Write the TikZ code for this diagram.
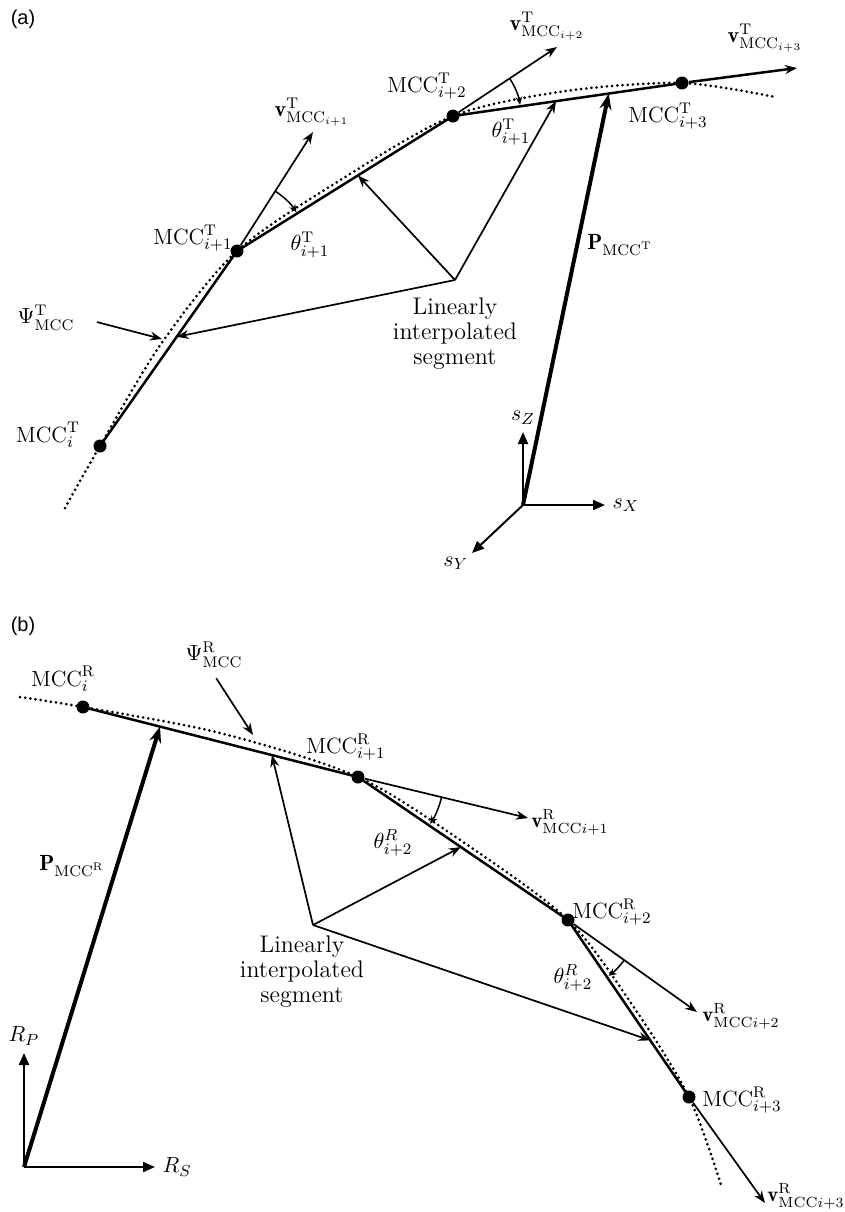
\documentclass[tikz,border=0pt]{standalone}
\usepackage{fontspec}
\usepackage{amsmath}
\usetikzlibrary{arrows.meta,calc}
\newfontfamily\panelfont{Liberation Sans}

\begin{document}
\begin{tikzpicture}[>={Stealth[length=6pt,width=4.5pt]},x=.5pt,y=-.5pt,
  every node/.style={font=\fontsize{11}{13}\selectfont},
  pt/.style={circle,fill,inner sep=0pt,minimum size=6.5pt},
  seg/.style={line width=1.25pt},
  crv/.style={line width=1.5pt,line cap=round,dash pattern=on 0pt off 2.6pt},
  vec/.style={->,line width=.85pt},
  pvec/.style={-{Stealth[length=8pt,width=6pt]},line width=2pt},
  ang/.style={-{Stealth[length=4pt,width=3.5pt]},line width=.75pt},
  ax/.style={-{Triangle[length=6pt,width=5pt]},line width=1pt},
  vlab/.style={anchor=west,inner sep=1pt,font=\fontsize{10.5}{12}\selectfont},
  note/.style={align=center,inner sep=0pt,font=\fontsize{12}{12.5}\selectfont},
  panel/.style={font=\panelfont\fontsize{10}{12}\selectfont}]
\useasboundingbox (0,0) rectangle (845,1212);

% (a)
\node[panel] (capa) at (23,19) {(a)};
\node[pt] (t0) at (100,446) {};
\node[pt] (t1) at (237,251) {};
\node[pt] (t2) at (453,116) {};
\node[pt] (t3) at (682,83) {};
\draw[crv] plot[smooth] coordinates {(65,508) (t0.center) (161,344) (t1.center) (342,179) (t2.center) (566,91) (t3.center) (775,97)};
\draw[seg] (t0.center)--(t1.center)--(t2.center)--(t3.center);
\coordinate (v1) at (313,132);
\coordinate (v2) at (557,47);
\coordinate (v3) at (797,68);
\draw[vec] (t1)--(v1);
\draw[vec] (t2)--(v2);
\draw[vec,line width=1.25pt] (t3)--(v3);
\draw[ang] ($(t1)+(-57.4:71)$) arc[start angle=-57.4,end angle=-33,radius=71];
\draw[ang] ($(t2)+(-33.6:68)$) arc[start angle=-33.6,end angle=-9.5,radius=68];
\node (lt0) at (48,435) {$\mathrm{MCC}^{\mathrm{T}}_{i}$};
\node (lt1) at (193,238) {$\mathrm{MCC}^{\mathrm{T}}_{i+1}$};
\node (lt2) at (427,86) {$\mathrm{MCC}^{\mathrm{T}}_{i+2}$};
\node (lt3) at (668,116) {$\mathrm{MCC}^{\mathrm{T}}_{i+3}$};
\node (lv1) at (312,112) {$\mathbf{v}^{\mathrm{T}}_{\mathrm{MCC}_{i+1}}$};
\node (lv2) at (547,26) {$\mathbf{v}^{\mathrm{T}}_{\mathrm{MCC}_{i+2}}$};
\node (lv3) at (765,38) {$\mathbf{v}^{\mathrm{T}}_{\mathrm{MCC}_{i+3}}$};
\node (tha1) at (310,245) {$\theta^{\mathrm{T}}_{i+1}$};
\node (tha2) at (511,132) {$\theta^{\mathrm{T}}_{i+1}$};
\node (psia) at (46,318) {$\Psi^{\mathrm{T}}_{\mathrm{MCC}}$};
\coordinate (psta) at (162,339);
\draw[vec,shorten <=8pt] (psia.east)--(psta);
\coordinate (ja) at (455,280);
\node[note,anchor=north] (lina) at (455,297) {Linearly\\interpolated\\segment};
\coordinate (ha1) at ($(t0)!.56!(t1)$);
\coordinate (ha2) at ($(t1)!.56!(t2)$);
\coordinate (ha3) at ($(t2)!.45!(t3)$);
\draw[vec] (ja)--(ha1);
\draw[vec] (ja)--(ha2);
\draw[vec] (ja)--(ha3);
\coordinate (oa) at (523,505);
\coordinate (pta) at ($(t2)!.68!(t3)$);
\draw[pvec] (oa)--(pta);
\node (lpa) at (620,245) {$\mathbf{P}_{\mathrm{MCC}^{\mathrm{T}}}$};
\coordinate (sz) at (523,432);
\coordinate (sx) at (605,505);
\coordinate (sy) at (472,553);
\draw[ax] (oa)--(sz) node[above] (lsz) {$s_Z$};
\draw[ax] (oa)--(sx) node[right] (lsx) {$s_X$};
\draw[ax] (oa)--(sy) node[below left=-2pt] (lsy) {$s_Y$};

% (b)
\node[panel] (capb) at (23,626) {(b)};
\node[pt] (b0) at (83,707) {};
\node[pt] (b1) at (358,777) {};
\node[pt] (b2) at (568,920) {};
\node[pt] (b3) at (689,1097) {};
\draw[crv] plot[smooth] coordinates {(20,697) (b0.center) (220,733) (b1.center) (466,844) (b2.center) (633,1006) (b3.center) (722,1188)};
\draw[seg] (b0.center)--(b1.center)--(b2.center)--(b3.center);
\coordinate (vb1) at (528,818);
\coordinate (vb2) at (697,1012);
\coordinate (vb3) at (765,1203);
\draw[vec] (b1)--(vb1);
\draw[vec] (b2)--(vb2);
\draw[vec] (b3)--(vb3);
\draw[ang] ($(b1)+(13.6:86)$) arc[start angle=13.6,end angle=33,radius=86];
\draw[ang] ($(b2)+(35.5:69)$) arc[start angle=35.5,end angle=54,radius=69];
\node (lb0) at (63,679) {$\mathrm{MCC}^{\mathrm{R}}_{i}$};
\node (lb1) at (346,747) {$\mathrm{MCC}^{\mathrm{R}}_{i+1}$};
\node (lb2) at (612,912) {$\mathrm{MCC}^{\mathrm{R}}_{i+2}$};
\node (lb3) at (742,1100) {$\mathrm{MCC}^{\mathrm{R}}_{i+3}$};
\node[vlab] (lvb1) at (529,822) {$\mathbf{v}^{\mathrm{R}}_{\mathrm{MCC}i+1}$};
\node[vlab] (lvb2) at (700,1016) {$\mathbf{v}^{\mathrm{R}}_{\mathrm{MCC}i+2}$};
\node[vlab] (lvb3) at (765,1196) {$\mathbf{v}^{\mathrm{R}}_{\mathrm{MCC}i+3}$};
\node (thb1) at (393,843) {$\theta^{R}_{i+2}$};
\node (thb2) at (573,978) {$\theta^{R}_{i+2}$};
\node (psib) at (214,655) {$\Psi^{\mathrm{R}}_{\mathrm{MCC}}$};
\coordinate (pstb) at (253,735);
\draw[vec,shorten <=2pt] (psib.south)--(pstb);
\coordinate (jb) at (313,925);
\node[note,anchor=north] (linb) at (302,935) {Linearly\\interpolated\\segment};
\coordinate (hb1) at ($(b0)!.687!(b1)$);
\coordinate (hb2) at ($(b1)!.49!(b2)$);
\coordinate (hb3) at ($(b2)!.68!(b3)$);
\draw[vec] (jb)--(hb1);
\draw[vec] (jb)--(hb2);
\draw[vec] (jb)--(hb3);
\coordinate (ob) at (24,1167);
\coordinate (ptb) at ($(b0)!.28!(b1)$);
\draw[pvec] (ob)--(ptb);
\node (lpb) at (72,866) {$\mathbf{P}_{\mathrm{MCC}^{\mathrm{R}}}$};
\coordinate (rp) at (24,1053);
\coordinate (rs) at (155,1167);
\draw[ax] (ob)--(rp) node[above] (lrp) {$R_P$};
\draw[ax] (ob)--(rs) node[right] (lrs) {$R_S$};
\end{tikzpicture}
\end{document}
